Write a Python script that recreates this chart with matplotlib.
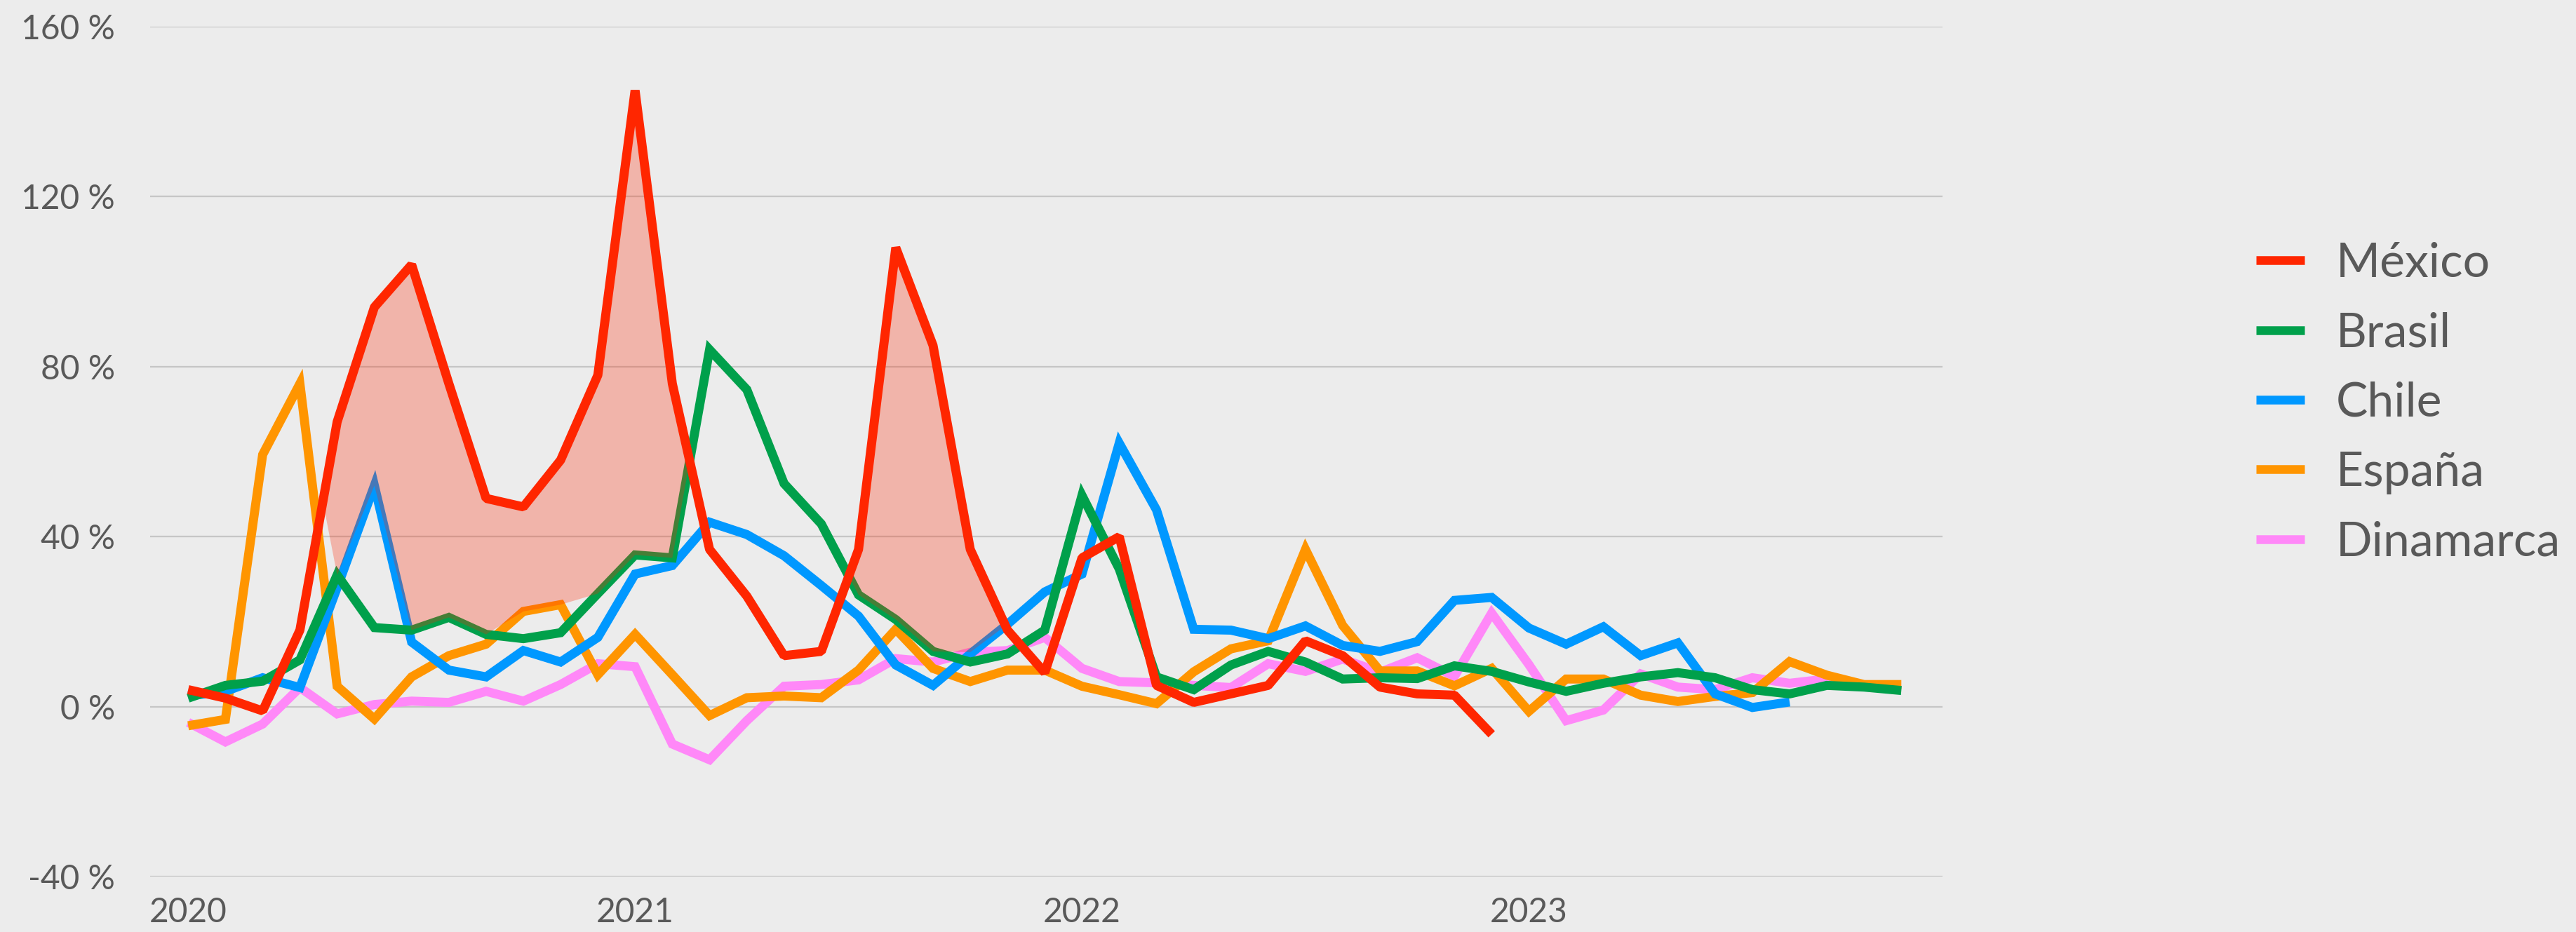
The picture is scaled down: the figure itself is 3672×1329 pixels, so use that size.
import numpy as np
import matplotlib
matplotlib.use("Agg")
import matplotlib.pyplot as plt

# ---- data (monthly, Jan 2020 onward, % change) ----
year_labels = ["2020", "2021", "2022", "2023"]

mexico = [4, 2, -1, 18, 67, 94, 104, 76, 49, 47, 58, 78, 145, 76, 37, 26, 12, 13, 37, 108,
          85, 37, 18, 8, 35, 40, 5, 1, 3, 5, 15.5, 12, 4.6, 3, 2.7, -6.5]
brasil = [2, 5, 6, 11, 31, 18.6, 18, 21, 17, 16, 17.4, 26.6, 35.7, 35, 84, 74.6, 52.5, 43, 26.3, 20.5,
          13, 10.5, 12.4, 18, 49.7, 32.4, 7, 4, 9.8, 13, 10.5, 6.5, 6.8, 6.6, 9.6, 8.3, 5.8, 3.6, 5.5, 7,
          8, 6.8, 4, 3, 5, 4.6, 3.8]
chile = [2.5, 3.6, 6.8, 4.5, 28, 52, 15.2, 8.6, 7, 13.2, 10.5, 16.3, 31.2, 33.2, 43.4, 40.5, 35.5, 28.5, 21.3, 9.8,
         5, 12.4, 19.4, 27, 31.2, 62, 46.3, 18.2, 18, 16, 19, 14.4, 13, 15.3, 25, 25.7, 18.5, 14.7, 18.8, 12,
         15, 3, -0.2, 1.1]
espana = [-4.5, -3, 59.3, 76, 4.8, -2.9, 7, 12, 14.7, 22.4, 24, 7.5, 17, 7.5, -2.1, 2.1, 2.5, 2.1, 8.6, 18.2,
          9, 5.9, 8.6, 8.6, 4.8, 2.8, 0.7, 8.2, 13.6, 15.5, 37, 19.1, 8.4, 8.4, 4.9, 9, -1.1, 6.5, 6.5, 2.7,
          1.2, 2.4, 3.3, 10.6, 7.4, 5.2, 5.2]
dinamarca = [-3.7, -8.3, -4.1, 4.5, -1.7, 0.5, 1.3, 1, 3.6, 1.3, 5.2, 10.1, 9.4, -8.8, -12.5, -3.3, 4.8, 5.2, 6.3, 11.3,
             10.5, 12.8, 13.2, 16.3, 9, 5.9, 5.6, 5, 4.5, 10.1, 8.3, 11.2, 8.1, 11.5, 7.1, 22, 9.9, -3.3, -0.8, 7.7,
             4.6, 4, 6.8, 5.5, 6.5, 5]

series = [
    ("México", mexico, "#ff2600"),
    ("Brasil", brasil, "#00a04b"),
    ("Chile", chile, "#0098ff"),
    ("España", espana, "#ff9500"),
    ("Dinamarca", dinamarca, "#ff88f8"),
]

BG = "#ececec"
TXT = "#595959"

fig = plt.figure(figsize=(3672 / 300, 1329 / 300), dpi=300, facecolor=BG)
ax = fig.add_axes([0.0583, 0.0594, 0.754 - 0.0583, 0.9714 - 0.0594])
ax.set_facecolor(BG)

lw = 3.1
handles = {}
zorders = {"Dinamarca": 2, "España": 3, "Chile": 4, "Brasil": 5, "México": 8}
for name, vals, col in series:
    x = np.arange(len(vals))
    js = "bevel" if name == "México" else "miter"
    (h,) = ax.plot(x, vals, color=col, lw=lw, solid_joinstyle=js, solid_capstyle="butt",
                   zorder=zorders[name])
    handles[name] = h

# shaded area where México exceeds every other series
n = len(mexico)
xm = np.arange(n)
others = np.full(n, -np.inf)
for name, vals, col in series[1:]:
    v = np.array(vals[:n] + [np.nan] * max(0, n - len(vals)), dtype=float)[:n]
    others = np.fmax(others, v)
mex = np.array(mexico, dtype=float)
ax.fill_between(xm, mex, others, where=mex > others, interpolate=True,
                color="#ff2600", alpha=0.28, lw=0, zorder=6)

ax.set_xlim(-1.02, 47.1)
ax.set_ylim(-40, 160)
ax.set_yticks([-40, 0, 40, 80, 120, 160])
ax.set_yticklabels([f"{v} %" for v in [-40, 0, 40, 80, 120, 160]])
ax.set_xticks([0, 12, 24, 36])
ax.set_xticklabels(year_labels)

ax.grid(axis="y", color="#c6c6c6", lw=0.55, zorder=0)
ax.set_axisbelow(True)
for s in ax.spines.values():
    s.set_visible(False)
ax.tick_params(axis="both", length=0, colors=TXT, labelsize=11.5)
ax.tick_params(axis="y", pad=12)
ax.tick_params(axis="x", pad=7)
for lab in ax.get_xticklabels() + ax.get_yticklabels():
    lab.set_family(["Lato", "DejaVu Sans"])

leg = fig.legend([handles[s[0]] for s in series], [s[0] for s in series],
                 loc="center left", bbox_to_anchor=(0.8757, 0.5675), frameon=False,
                 prop={"family": ["Lato", "DejaVu Sans"], "size": 16.3},
                 handlelength=1.02, handletextpad=0.66, labelspacing=0.55,
                 borderpad=0, borderaxespad=0)
for t in leg.get_texts():
    t.set_color(TXT)
for l in leg.get_lines():
    l.set_linewidth(3.0)

fig.savefig("out.png", dpi=300, facecolor=BG)
